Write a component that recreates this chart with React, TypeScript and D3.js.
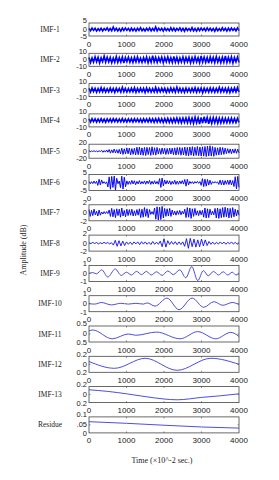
import React, { useRef, useEffect } from 'react';
import * as d3 from 'd3';

// panel names and axis text
const names = ['IMF-1', 'IMF-2', 'IMF-3', 'IMF-4', 'IMF-5', 'IMF-6', 'IMF-7', 'IMF-8', 'IMF-9', 'IMF-10', 'IMF-11', 'IMF-12', 'IMF-13', 'Residue'];
const yDomains = [[-5, 5], [-10, 10], [-10, 10], [-10, 10], [-20, 20], [-5, 5], [-2, 2], [-2, 2], [-1, 1], [-1, 1], [-0.5, 0.5], [-0.2, 0.2], [-0.2, 0.2], [0, 0.1]];
const yTickLabels = [
  ['5', '0', '-5'], ['10', '0', '-10'], ['10', '0', '-10'], ['10', '0', '-10'],
  ['20', '0', '-20'], ['5', '0', '-5'], ['2', '0', '-2'], ['2', '0', '-2'],
  ['1', '0', '-1'], ['1', '0', '-1'], ['0.5', '0', '0.5'], ['0.2', '0', '0.2'],
  ['0.2', '0', '0.2'], ['0.1', '.05', '0'],
];
const xTicks = [0, 1000, 2000, 3000, 4000];

// dense components, evenly spaced over 0..4000
const imf1 = [0.8,-0.9,1.1,-0.7,0.9,-1.2,0.6,-0.8,1.0,-1.1,0.7,-0.6,1.3,-0.9,0.8,-1.0,1.9,-0.8,0.9,-1.1,0.7,-1.3,1.0,-0.8,1.2,-0.7,0.9,-1.0,1.1,-0.9,0.8,-1.2,1.0,-0.7,1.4,-0.9,0.6,-1.1,0.9,-0.8,1.2,-1.0,0.8,-0.9,2.0,-1.1,1.0,-0.7,0.9,-1.2,1.1,-0.8,0.7,-1.0,1.3,-0.9,1.0,-1.1,0.8,-0.7,1.2,-1.0,0.9,-1.3,1.1,-0.8,0.7,-0.9,1.5,-1.0,0.8,-1.2,1.0,-0.9,1.1,-0.7,0.9,-1.1,1.2,-0.8,1.0,-1.0,0.8,-1.4,1.1,-0.9,0.7,-1.0,1.3,-0.8,0.9,-1.2,1.0,-0.9,1.1,-0.7,0.8,-1.0,1.2,-0.9];
const imf2 = [3.5,-4.2,2.8,-3.6,4.5,-3.1,3.9,-4.8,3.2,-2.9,5.6,-3.8,4.1,-3.3,3.6,-4.4,2.9,-3.7,4.8,-4.0,3.3,-3.5,4.2,-5.1,3.7,-3.0,4.0,-3.9,3.1,-4.3,3.8,-3.4,4.6,-3.6,2.7,-4.1,3.5,-3.2,4.3,-4.7,3.0,-3.8,6.2,-3.5,3.9,-4.0,3.4,-3.1,4.1,-4.6,3.6,-3.3,4.4,-3.9,3.2,-4.2,5.3,-3.7,3.8,-4.4,3.1,-3.6,4.5,-4.1,3.7,-3.2,4.0,-4.8,3.5,-3.9,4.7,-3.4,3.3,-4.5,5.8,-3.8,4.2,-4.0,3.6,-5.2,4.4,-3.5,3.9,-4.3,4.9,-3.7,3.4,-4.6,4.1,-3.9,6.0,-4.2,3.8,-3.6,4.5,-4.9,3.7,-3.3,4.2,-4.0];
const imf3 = [2.6,-2.9,3.2,-2.4,2.8,-3.3,2.5,-2.7,3.8,-2.6,2.9,-3.1,2.3,-2.8,3.4,-2.5,2.7,-3.6,3.0,-2.4,2.6,-3.0,4.4,-2.7,2.8,-3.2,2.5,-2.9,3.1,-2.6,3.6,-3.4,2.7,-2.8,3.0,-2.5,2.9,-3.7,3.3,-2.6,2.8,-3.0,2.5,-2.9,4.1,-3.1,2.7,-2.8,3.2,-2.4,3.0,-3.5,2.6,-2.9,3.4,-2.7,2.9,-3.2,4.6,-2.8,3.1,-3.0,2.6,-3.4,3.3,-2.7,2.8,-3.1,3.0,-2.6,3.7,-3.3,2.9,-2.8,3.2,-4.2,3.0,-2.7,2.8,-3.1,3.5,-2.9,3.1,-3.3,2.7,-2.8,4.3,-3.0,3.2,-2.6,2.9,-3.4,3.3,-3.8,3.0,-2.7,3.6,-3.1,3.9,-2.9];
const imf4 = [2.2,-2.5,2.8,-2.1,2.4,-2.7,2.0,-2.3,2.6,-2.4,2.1,-2.8,2.5,-2.2,2.3,-2.6,2.7,-2.0,2.4,-2.5,2.2,-2.3,2.9,-2.4,2.1,-2.6,2.5,-2.2,2.3,-2.7,2.6,-2.1,2.4,-2.5,2.2,-2.8,2.7,-2.3,2.5,-2.6,2.8,-2.4,2.6,-3.0,2.9,-2.7,3.1,-2.8,2.7,-3.2,3.0,-2.9,3.3,-3.1,2.9,-3.4,3.2,-3.0,3.6,-3.3,3.4,-3.7,3.5,-3.2,3.8,-3.6,4.2,-3.9,3.7,-4.5,4.8,-3.8,4.1,-5.6,4.6,-4.3,5.9,-4.0,4.4,-5.2,3.9,-4.7,4.3,-3.8,4.0,-4.4,3.6,-3.9,3.8,-3.5,3.4,-3.7,3.2,-3.6,3.5,-3.3,3.1,-3.4,3.3,-3.0];
const imf5 = [1.2,-1.5,0.8,-1.0,1.6,-1.3,0.9,-1.4,1.1,-0.8,
  2.5,-3.2,1.8,-2.6,3.5,-2.9,
  4.8,-5.5,3.9,-4.6,6.2,-5.1,4.4,-6.0,5.3,
  -7.8,8.5,-9.2,6.9,-8.1,9.6,-7.4,8.8,-10.2,7.6,-9.0,8.3,
  -10.5,11.2,-9.8,12.0,-10.9,9.5,-11.6,10.8,-12.3,11.0,-9.7,10.4,-11.8,12.5,-10.1,9.9,-11.3,10.6,
  -8.2,7.6,-8.9,9.1,-7.3,8.4,-9.5,7.8,-8.6,9.0,-7.9,8.7,
  -10.2,9.6,-11.0,10.5,-9.3,10.8,-11.4,9.9,-10.6,
  11.8,-12.4,10.9,-13.1,12.2,-11.5,12.9,-13.6,11.3,-12.0,13.4,-12.7,11.9,-13.8,12.5,
  -14.2,13.5,-15.1,14.4,-13.8,15.6,-14.0,13.2,-14.7,
  10.8,-11.5,9.6,-10.9,11.2,-9.8,10.4,-9.1,8.7,
  -6.8,7.2,-5.9,6.5,-7.1,6.0,-5.5,6.8,-6.2,5.7,-4.8];
const imf6 = [0.6,-0.8,0.5,-0.7,0.9,-0.6,0.7,
  -1.8,2.0,-1.5,1.6,
  -0.6,0.5,-0.7,0.4,
  -2.8,3.5,-4.2,3.8,-3.1,4.0,-4.8,2.6,
  -0.8,0.9,
  -3.2,3.9,-4.1,3.3,-2.7,
  1.0,-1.2,0.8,-1.1,1.3,-0.9,1.1,-1.4,0.7,-0.9,1.2,-1.0,0.6,-0.8,1.0,-1.1,0.9,-0.7,1.3,-1.2,0.8,-1.0,1.1,-0.9,0.7,-1.1,
  2.4,-3.1,2.8,-2.2,1.6,
  -1.0,1.2,-0.9,1.1,-1.3,0.8,-1.0,1.4,-1.2,0.9,-1.1,1.0,-0.8,1.2,-1.0,
  1.9,-2.3,2.0,-1.5,
  0.7,-0.6,0.5,-0.8,0.6,-0.4,0.7,-0.5,0.6,
  -1.8,2.4,-2.6,2.1,-2.3,1.9,-1.6,1.4,-1.2,
  0.5,-0.4,0.6,-0.3,0.4,
  -1.2,1.5,-1.4,1.3,-1.6,1.2,-1.1,1.4,-1.3,1.6,-1.5,1.2,
  -2.5,3.6,-4.0,3.8,-3.0];
const imf7 = [0.8,-0.9,0.6,-0.7,0.9,-0.5,0.4,-0.8,0.7,-0.6,
  0.2,-0.3,0.3,-0.2,0.3,-0.2,
  0.7,-0.9,1.1,-1.0,0.8,-1.2,1.0,-0.7,0.9,-1.1,1.2,-0.8,0.6,-1.0,0.9,
  -0.7,0.8,-0.6,0.9,-0.8,0.5,-0.7,0.8,-0.6,
  1.0,-1.2,0.9,-1.1,1.3,-0.9,1.0,-1.2,0.8,
  -0.4,0.3,-0.4,
  1.2,-1.6,1.5,-1.8,1.4,-1.7,1.6,-1.3,1.1,
  -0.9,1.0,-0.8,1.1,-0.9,0.7,
  -0.5,0.4,-0.6,0.5,-0.4,0.6,-0.5,0.4,-0.3,
  0.9,-1.2,1.3,-1.1,1.2,-1.4,1.0,-0.9,1.1,
  -0.6,0.5,-0.7,0.6,-0.5,0.6,
  -1.1,1.2,-1.3,1.0,-1.2,0.9,
  -0.5,0.4,-0.5,
  1.1,-1.3,1.2,-1.4,1.0,-1.2,1.3,-1.1,1.4,-1.0,1.2,-1.3,1.1,-1.2,1.3,-1.0,0.9,
  -0.8,0.7,-0.6];
const imf8 = [0.1,-0.15,0.2,-0.1,0.15,-0.2,0.1,-0.15,0.2,-0.1,0.15,-0.2,0.1,
  -0.5,0.7,-0.8,0.6,-0.7,0.5,-0.6,0.3,
  -0.3,0.25,-0.35,0.3,-0.2,0.3,-0.4,0.35,-0.25,0.3,-0.3,0.2,-0.35,0.4,-0.3,0.25,-0.3,0.5,
  -0.9,1.1,-1.0,0.6,
  -0.35,0.4,-0.3,0.35,-0.4,0.3,-0.35,0.3,
  -0.8,1.1,-1.3,1.2,-0.9,1.0,
  -1.0,0.8,-0.9,1.0,-0.7,0.8,-0.6,0.4,
  -0.3,0.25,-0.3,0.2,-0.25,0.3,-0.2,0.25,-0.3,0.2,-0.2,0.3,-0.25,0.2,-0.3,0.1];

// smooth components, [time, value] at turning points
const imf9 = [[0,0],[100,0.1],[200,-0.05],[340,0.45],[500,-0.45],[700,0.55],[860,-0.25],[1000,0.15],[1130,-0.2],[1270,0.25],[1400,-0.15],[1530,0.25],[1660,-0.2],[1800,0.2],[1950,-0.25],[2100,0.3],[2250,-0.15],[2420,0.45],[2580,-0.55],[2740,0.85],[2900,-0.9],[3050,0.35],[3180,-0.3],[3320,0.25],[3450,-0.2],[3580,0.2],[3700,-0.2],[3820,0.15],[3920,-0.2],[4000,-0.05]];
const imf10 = [[0,0],[150,-0.05],[330,0.15],[600,-0.15],[850,0.05],[1050,-0.05],[1250,0.05],[1450,-0.05],[1550,0.1],[1760,-0.3],[2080,0.7],[2400,-0.75],[2750,0.7],[3060,-0.45],[3330,0.25],[3570,-0.2],[3820,0.15],[4000,-0.1]];
const imf11 = [[0,0.2],[100,0.25],[620,-0.3],[1050,0],[1250,-0.08],[1800,0.12],[2430,-0.3],[2900,0.15],[3380,-0.3],[3780,0.1],[4000,-0.15]];
const imf12 = [[0,0.07],[680,-0.1],[1500,0.15],[2350,-0.15],[3250,0.15],[4000,0]];
const imf13 = [[0,0.12],[500,0.08],[1000,0.02],[1500,-0.05],[2000,-0.11],[2350,-0.13],[3000,-0.07],[3500,-0.03],[4000,0.02]];
const residue = [[0,0.07],[1000,0.06],[2000,0.048],[3000,0.037],[4000,0.03]];

const dense = [imf1, imf2, imf3, imf4, imf5, imf6, imf7, imf8];
const smooth = [imf9, imf10, imf11, imf12, imf13, residue];

const W = 279, H = 480;
const left = 89, right = 239;

const App = () => {
  const ref = useRef(null);

  useEffect(() => {
    const svg = d3.select(ref.current);
    svg.selectAll('*').remove();
    svg.append('rect').attr('width', W).attr('height', H).attr('fill', '#fff');

    const x = d3.scaleLinear().domain([0, 4000]).range([left, right]);

    names.forEach((name, i) => {
      const top = 23 + i * 30.3;
      const h = i < 4 ? 13 : i === 4 ? 14 : 16;
      const y = d3.scaleLinear().domain(yDomains[i]).range([top + h, top]);
      const g = svg.append('g');

      // series
      let pts;
      if (i < dense.length) {
        const s = dense[i];
        pts = s.map((v, k) => [k * 4000 / (s.length - 1), v]);
      } else {
        pts = smooth[i - dense.length];
      }
      const line = d3.line()
        .x((d) => x(d[0]))
        .y((d) => y(d[1]))
        .curve(i < dense.length ? d3.curveLinear : d3.curveMonotoneX);
      g.append('path')
        .attr('d', line(pts))
        .attr('fill', 'none')
        .attr('stroke', i < 4 ? '#0000ff' : i < 8 ? '#0a0af2' : '#3a3ad8')
        .attr('stroke-width', i < 4 ? 1.6 : i < 7 ? 1.0 : 0.9);

      // box
      g.append('rect')
        .attr('x', left).attr('y', top)
        .attr('width', right - left).attr('height', h)
        .attr('fill', 'none').attr('stroke', '#444').attr('stroke-width', 0.8);

      // inner ticks
      xTicks.slice(1, -1).forEach((t) => {
        g.append('line').attr('x1', x(t)).attr('x2', x(t)).attr('y1', top).attr('y2', top + 1.5).attr('stroke', '#444').attr('stroke-width', 0.6);
        g.append('line').attr('x1', x(t)).attr('x2', x(t)).attr('y1', top + h).attr('y2', top + h - 1.5).attr('stroke', '#444').attr('stroke-width', 0.6);
      });
      const mid = (yDomains[i][0] + yDomains[i][1]) / 2;
      g.append('line').attr('x1', left).attr('x2', left + 1.5).attr('y1', y(mid)).attr('y2', y(mid)).attr('stroke', '#444').attr('stroke-width', 0.6);
      g.append('line').attr('x1', right).attr('x2', right - 1.5).attr('y1', y(mid)).attr('y2', y(mid)).attr('stroke', '#444').attr('stroke-width', 0.6);

      // y tick labels
      const yPos = [top - 2, y(mid), top + h + 0.5];
      yTickLabels[i].forEach((lab, k) => {
        g.append('text')
          .attr('x', left - 2).attr('y', yPos[k]).attr('dy', '0.33em')
          .attr('text-anchor', 'end')
          .attr('font-family', 'Liberation Sans, Arial, sans-serif')
          .attr('font-size', 7.5).attr('fill', '#222')
          .text(lab);
      });

      // x tick labels
      xTicks.forEach((t) => {
        g.append('text')
          .attr('x', x(t)).attr('y', top + h + 10.5)
          .attr('text-anchor', 'middle')
          .attr('font-family', 'Liberation Sans, Arial, sans-serif')
          .attr('font-size', 8).attr('fill', '#222')
          .text(t);
      });

      // component name
      g.append('text')
        .attr('x', 50).attr('y', top + h / 2 + 2.5)
        .attr('text-anchor', 'middle')
        .attr('font-family', 'Liberation Serif, Times New Roman, serif')
        .attr('font-size', 7.5).attr('fill', '#222')
        .text(name);
    });

    svg.append('text')
      .attr('transform', 'translate(26,250) rotate(-90)')
      .attr('text-anchor', 'middle')
      .attr('font-family', 'Liberation Serif, Times New Roman, serif')
      .attr('font-size', 8).attr('fill', '#222')
      .text('Amplitude (dB)');

    svg.append('text')
      .attr('x', 162).attr('y', 463)
      .attr('text-anchor', 'middle')
      .attr('font-family', 'Liberation Serif, Times New Roman, serif')
      .attr('font-size', 8).attr('fill', '#222')
      .text('Time (×10^-2 sec.)');
  }, []);

  return (
    <svg ref={ref} width={W} height={H} style={{ position: 'absolute', left: 0, top: 0 }} />
  );
};

export default App;
